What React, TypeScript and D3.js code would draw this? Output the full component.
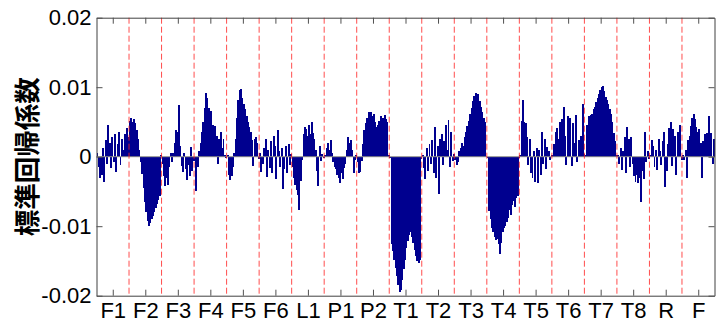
import React, { useEffect, useRef } from 'react';
import * as d3 from 'd3';

// channel groups along the x axis
const groupLabels = ["F1", "F2", "F3", "F4", "F5", "F6", "L1", "P1", "P2", "T1", "T2", "T3", "T4", "T5", "T6", "T7", "T8", "R", "F"];

// standardized regression coefficients, in units of 1e-3, 24 bins per group
const coefF1 = [0.6, -1.5, -3.0, -2.6, 1.2, -3.6, 2.4, -1.0, 4.5, 2.0, -1.6, 2.8, -0.8, 3.2, -2.2, 1.8, 3.6, -1.2, 2.6, 1.0, 3.2, 0.8, 4.1, 2.8];
const coefF2 = [5.2, 5.6, 5.0, 5.4, 4.8, 3.8, 2.5, 1.0, -0.8, -2.5, -4.5, -6.5, -8.0, -9.2, -10.0, -9.6, -9.0, -8.6, -8.0, -7.4, -6.8, -6.2, -5.6, 0.2];
const coefF3 = [-1.0, -2.8, -4.2, -3.0, -4.0, -1.5, 0.5, -0.8, 0.6, 2.0, 3.8, 3.5, 7.4, 1.5, -1.4, -2.2, 0.5, -1.8, -3.4, -1.2, -2.8, 1.4, -2.0, -0.6];
const coefF4 = [-0.5, -5.0, -1.5, 0.8, 2.0, 3.5, 5.0, 7.0, 9.1, 8.4, 7.0, 5.2, 6.6, 4.5, 3.8, 4.4, 3.0, -1.0, 2.6, 3.6, 1.2, 2.5, 0.3, -0.2];
const coefF5 = [0.2, -2.6, -3.4, -2.8, -1.5, 0.5, 2.5, 5.5, 8.2, 9.6, 9.8, 8.4, 7.6, 6.8, 5.8, 5.0, 4.3, 3.5, 2.4, -1.4, 2.6, 2.8, 2.0, -0.3];
const coefF6 = [0.5, -2.2, -1.0, 1.2, 2.6, -2.9, 1.0, -1.6, 2.2, -2.4, 3.0, 1.5, -3.2, 3.8, 0.8, -1.5, 1.2, -4.6, -1.8, 1.6, -2.4, 1.8, -1.2, 0.4];
const coefL1 = [-1.5, -3.0, -4.0, -4.8, -5.5, -7.7, -3.5, -0.5, 3.2, 4.3, 4.0, 3.0, 4.5, 3.2, 5.0, 3.4, 2.5, 1.0, -2.0, -4.2, 1.5, -0.6, 0.4, -0.2];
const coefP1 = [0.3, 1.2, 2.0, 1.0, 2.4, 0.6, -0.8, -1.5, -1.8, -2.6, -3.0, -3.8, -2.4, -3.2, -1.6, -1.0, 1.0, 2.9, 2.0, 2.4, 1.0, -2.4, -0.5, 0.2];
const coefP2 = [-0.8, -2.4, -2.2, -0.6, 1.8, 3.8, 4.8, 5.6, 6.5, 6.0, 6.4, 5.8, 6.2, 5.0, 4.3, 4.6, 5.2, 5.8, 5.0, 5.6, 6.0, 5.4, 5.0, 0.2];
const coefT1 = [-0.2, -12.5, -13.5, -14.8, -16.0, -17.2, -18.4, -19.4, -19.2, -17.8, -16.2, -14.8, -13.2, -12.2, -11.2, -10.8, -11.5, -12.4, -13.4, -14.3, -15.0, -15.3, -14.8, -0.3];
const coefT2 = [0.3, -1.6, -3.2, 1.2, -2.0, 1.8, -1.0, 2.4, -2.4, 4.3, -3.0, 1.6, -5.3, 2.6, 3.2, -1.2, 2.2, 4.6, 1.0, 5.3, -1.5, 3.6, -0.6, 0.4];
const coefT3 = [-0.5, -1.2, -0.8, 0.8, 1.2, 2.0, 1.6, 2.8, 3.5, 4.4, 5.2, 6.2, 7.0, 8.0, 8.8, 9.1, 8.6, 9.0, 8.0, 7.2, 6.4, 5.6, 5.0, 0.0];
const coefT4 = [-0.2, -7.8, -9.0, -10.2, -10.8, -11.5, -12.0, -11.8, -12.6, -14.0, -12.4, -10.8, -10.2, -10.0, -9.4, -8.8, -7.6, -8.4, -7.0, -6.4, -7.2, -6.0, -5.6, -0.2];
const coefT5 = [0.2, 5.2, 8.2, 5.0, 4.8, 2.9, -1.2, 2.6, -2.4, -3.0, 0.8, -3.6, 1.2, -3.8, 1.0, -2.6, 3.6, -1.0, 2.6, -1.8, 1.4, 0.8, -0.5, 0.3];
const coefT6 = [0.3, 1.8, 3.6, 4.2, 2.6, 5.0, 4.4, 5.4, 7.2, 3.0, -1.2, 5.8, 1.5, 5.6, -1.4, 4.8, 2.0, 6.0, -0.8, 2.4, 1.0, 3.0, 7.6, 0.4];
const coefT7 = [0.3, 4.6, 3.2, 5.8, 6.0, 6.2, 6.8, 7.2, 7.8, 8.4, 9.0, 9.6, 10.1, 10.2, 9.4, 8.6, 8.2, 7.6, 6.8, 6.2, 5.0, 3.4, 2.2, 0.2];
const coefT8 = [0.2, -1.0, 1.2, -1.9, 0.8, 2.9, -2.4, 4.3, 2.6, -1.5, 2.9, -1.0, -2.8, -3.6, -2.6, -3.8, -3.0, -6.5, -2.0, -3.2, 3.6, -0.8, 0.8, -0.3];
const coefR = [0.2, 2.4, 1.6, -1.5, 1.0, -1.9, 2.6, 0.8, -1.2, 2.2, 3.6, -4.3, -2.0, 1.8, 4.2, 5.0, -1.4, 4.0, 3.0, -2.6, 3.6, 1.2, 4.6, -0.5];
const coefF = [0.2, -0.5, 1.0, -3.1, 2.4, 3.0, 4.4, 5.6, 6.2, 5.4, 4.3, 3.6, 4.0, 2.0, -3.1, 2.2, 3.2, 2.6, 3.4, 5.8, 3.0, 3.4, -1.0, 2.6];

const coefGroups = [coefF1, coefF2, coefF3, coefF4, coefF5, coefF6, coefL1, coefP1, coefP2, coefT1, coefT2, coefT3, coefT4, coefT5, coefT6, coefT7, coefT8, coefR, coefF];
const UNIT = 1e-3;

const yTicks = [-0.02, -0.01, 0, 0.01, 0.02];
const yLabel = "標準回帰係数";

const W = 717;
const H = 323;

const App = () => {
    const ref = useRef<SVGSVGElement>(null);

    useEffect(() => {
        const svg = d3.select(ref.current);
        svg.selectAll("*").remove();

        const left = 96.5, right = 714.5, top = 17.7, bottom = 295.7;
        const values = coefGroups.flat().map(v => v * UNIT);

        const x = d3.scaleBand<number>()
            .domain(d3.range(values.length))
            .range([left, right])
            .padding(0);
        const xg = d3.scaleLinear().domain([0, groupLabels.length]).range([left, right]);
        const y = d3.scaleLinear().domain([-0.02, 0.02]).range([bottom, top]);

        // bars, crisp so that neighbouring bars merge into solid blocks
        svg.append("g")
            .attr("shape-rendering", "crispEdges")
            .selectAll("rect")
            .data(values)
            .join("rect")
            .attr("x", (d, i) => x(i))
            .attr("width", x.bandwidth() + 0.6)
            .attr("y", d => y(Math.max(0, d)))
            .attr("height", d => Math.abs(y(d) - y(0)))
            .attr("fill", "#00008f");

        // baseline
        svg.append("line")
            .attr("x1", left).attr("x2", right)
            .attr("y1", y(0)).attr("y2", y(0))
            .attr("stroke", "#8a8a8a")
            .attr("stroke-width", 1);

        // group separators
        svg.append("g")
            .selectAll("line")
            .data(d3.range(1, groupLabels.length))
            .join("line")
            .attr("x1", d => xg(d)).attr("x2", d => xg(d))
            .attr("y1", top).attr("y2", bottom)
            .attr("stroke", "#ff2020")
            .attr("stroke-opacity", 0.8)
            .attr("stroke-dasharray", "6,3");

        const centers = groupLabels.map((_, i) => i + 0.5);
        const fmt = (v: number) => (v === 0 ? "0" : v.toFixed(2));
        const font = "'Liberation Sans', Arial, Helvetica, sans-serif";

        const styleAxis = (g: any) => {
            g.select(".domain").attr("stroke", "#404040");
            g.selectAll(".tick line").attr("stroke", "#505050");
            g.selectAll(".tick text").attr("fill", "#000").attr("font-size", "22px").attr("font-family", font);
        };

        svg.append("g")
            .attr("transform", `translate(0,${bottom})`)
            .call(d3.axisBottom(xg).tickValues(centers).tickFormat((d, i) => groupLabels[i]).tickSizeInner(-6).tickSizeOuter(0).tickPadding(7))
            .call(styleAxis);
        svg.append("g")
            .attr("transform", `translate(0,${top})`)
            .call(d3.axisTop(xg).tickValues(centers).tickFormat(() => "").tickSizeInner(-6).tickSizeOuter(0))
            .call(styleAxis);
        svg.append("g")
            .attr("transform", `translate(${left},0)`)
            .call(d3.axisLeft(y).tickValues(yTicks).tickFormat(fmt as any).tickSizeInner(-6).tickSizeOuter(0).tickPadding(5))
            .call(styleAxis);
        svg.append("g")
            .attr("transform", `translate(${right},0)`)
            .call(d3.axisRight(y).tickValues(yTicks).tickFormat(() => "").tickSizeInner(-6).tickSizeOuter(0))
            .call(styleAxis);

        svg.append("text")
            .attr("transform", `translate(25,${(top + bottom) / 2}) rotate(-90)`)
            .attr("text-anchor", "middle")
            .attr("dominant-baseline", "central")
            .attr("font-family", "'Noto Sans CJK JP', sans-serif")
            .attr("font-size", "26.5px")
            .attr("font-weight", "bold")
            .attr("fill", "#000")
            .text(yLabel);
    }, []);

    return (
        <>
            <style>{`body{margin:0}`}</style>
            <svg ref={ref} width={W} height={H} style={{ display: 'block', background: '#fff' }}></svg>
        </>
    );
};

export default App;
